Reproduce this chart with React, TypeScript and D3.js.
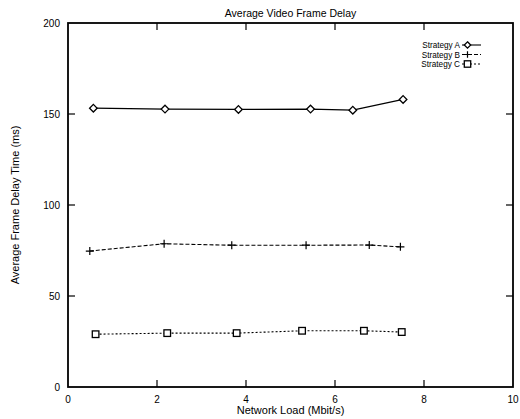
import React from "react";
import * as d3 from "d3";

const title = "Average Video Frame Delay";
const xLabel = "Network Load (Mbit/s)";
const yLabel = "Average Frame Delay Time (ms)";
const xTicks = [0, 2, 4, 6, 8, 10];
const yTicks = [0, 50, 100, 150, 200];

const seriesNames = ["Strategy A", "Strategy B", "Strategy C"];
const xA = [0.57, 2.18, 3.83, 5.45, 6.4, 7.53];
const yA = [153.2, 152.7, 152.5, 152.7, 152.1, 158.0];
const xB = [0.49, 2.16, 3.68, 5.35, 6.77, 7.47];
const yB = [74.7, 78.7, 77.9, 77.9, 78.0, 77.0];
const xC = [0.62, 2.23, 3.79, 5.26, 6.65, 7.5];
const yC = [29.0, 29.6, 29.6, 30.9, 30.9, 30.2];

const W = 520, H = 419;
const m = { left: 68, right: 7, top: 23, bottom: 32 };
const FONT = "'Liberation Sans', Arial, Helvetica, sans-serif";

export default function App() {
  const x = d3.scaleLinear().domain([0, 10]).range([m.left, W - m.right]);
  const y = d3.scaleLinear().domain([0, 200]).range([H - m.bottom, m.top]);
  const line = d3.line<[number, number]>().x(d => x(d[0])).y(d => y(d[1]));
  const A = xA.map((v, i) => [v, yA[i]] as [number, number]);
  const B = xB.map((v, i) => [v, yB[i]] as [number, number]);
  const C = xC.map((v, i) => [v, yC[i]] as [number, number]);

  const diamond = (cx: number, cy: number, k: string, s = 3.8) => (
    <path key={k} d={`M${cx},${cy - s}L${cx + s},${cy}L${cx},${cy + s}L${cx - s},${cy}Z`} fill="white" stroke="black" strokeWidth={1.3} />
  );
  const plus = (cx: number, cy: number, k: string, s = 4) => (
    <path key={k} d={`M${cx - s},${cy}H${cx + s}M${cx},${cy - s}V${cy + s}`} stroke="black" strokeWidth={1.2} />
  );
  const square = (cx: number, cy: number, k: string, s = 3.3) => (
    <rect key={k} x={cx - s} y={cy - s} width={2 * s} height={2 * s} fill="white" stroke="black" strokeWidth={1.3} />
  );

  const x0 = x(0), x1 = x(10), y0 = y(0), y1 = y(200);
  const legendRows = [
    { dash: undefined as string | undefined, mk: diamond },
    { dash: "4,2", mk: plus },
    { dash: "2,2", mk: square },
  ];

  return (
    <svg width={W} height={H} style={{ position: "absolute", left: 0, top: 0, background: "white" }} fontFamily={FONT}>
      <rect width={W} height={H} fill="white" />
      {xTicks.slice(1, -1).map(t => (
        <g key={"xt" + t}>
          <line x1={x(t)} x2={x(t)} y1={y0} y2={y0 - 7} stroke="black" strokeWidth={1.2} />
          <line x1={x(t)} x2={x(t)} y1={y1} y2={y1 + 7} stroke="black" strokeWidth={1.2} />
        </g>
      ))}
      {yTicks.slice(1, -1).map(t => (
        <g key={"yt" + t}>
          <line x1={x0} x2={x0 + 7} y1={y(t)} y2={y(t)} stroke="black" strokeWidth={1.2} />
          <line x1={x1} x2={x1 - 7} y1={y(t)} y2={y(t)} stroke="black" strokeWidth={1.2} />
        </g>
      ))}
      <rect x={x0} y={y1} width={x1 - x0} height={y0 - y1} fill="none" stroke="black" strokeWidth={1.8} />
      {xTicks.map(t => (
        <text key={"xl" + t} x={x(t)} y={y0 + 15.5} fontSize={10} textAnchor="middle">{t}</text>
      ))}
      {yTicks.map(t => (
        <text key={"yl" + t} x={x0 - 8} y={y(t) + 3.5} fontSize={10} textAnchor="end">{t}</text>
      ))}
      <text x={(x0 + x1) / 2} y={17} fontSize={10.5} textAnchor="middle">{title}</text>
      <text x={(x0 + x1) / 2} y={414} fontSize={11} textAnchor="middle">{xLabel}</text>
      <text transform={`translate(19,${(y0 + y1) / 2}) rotate(-90)`} fontSize={11} textAnchor="middle">{yLabel}</text>

      <path d={line(A) || ""} fill="none" stroke="black" strokeWidth={1.2} />
      <path d={line(B) || ""} fill="none" stroke="black" strokeWidth={1.1} strokeDasharray="4,2" />
      <path d={line(C) || ""} fill="none" stroke="black" strokeWidth={1.1} strokeDasharray="2,2" />
      {A.map((d, i) => diamond(x(d[0]), y(d[1]), "a" + i))}
      {B.map((d, i) => plus(x(d[0]), y(d[1]), "b" + i))}
      {C.map((d, i) => square(x(d[0]), y(d[1]), "c" + i))}

      {seriesNames.map((n, i) => {
        const base = 48 + i * 9.5;
        const ly = base - 3;
        const r = legendRows[i];
        return (
          <g key={"lg" + i}>
            <text x={460} y={base} fontSize={8.2} textAnchor="end">{n}</text>
            <line x1={462} x2={481} y1={ly} y2={ly} stroke="black" strokeWidth={1.1} strokeDasharray={r.dash} />
            {r.mk(467.5, ly, "lm" + i, 3.2)}
          </g>
        );
      })}
    </svg>
  );
}
